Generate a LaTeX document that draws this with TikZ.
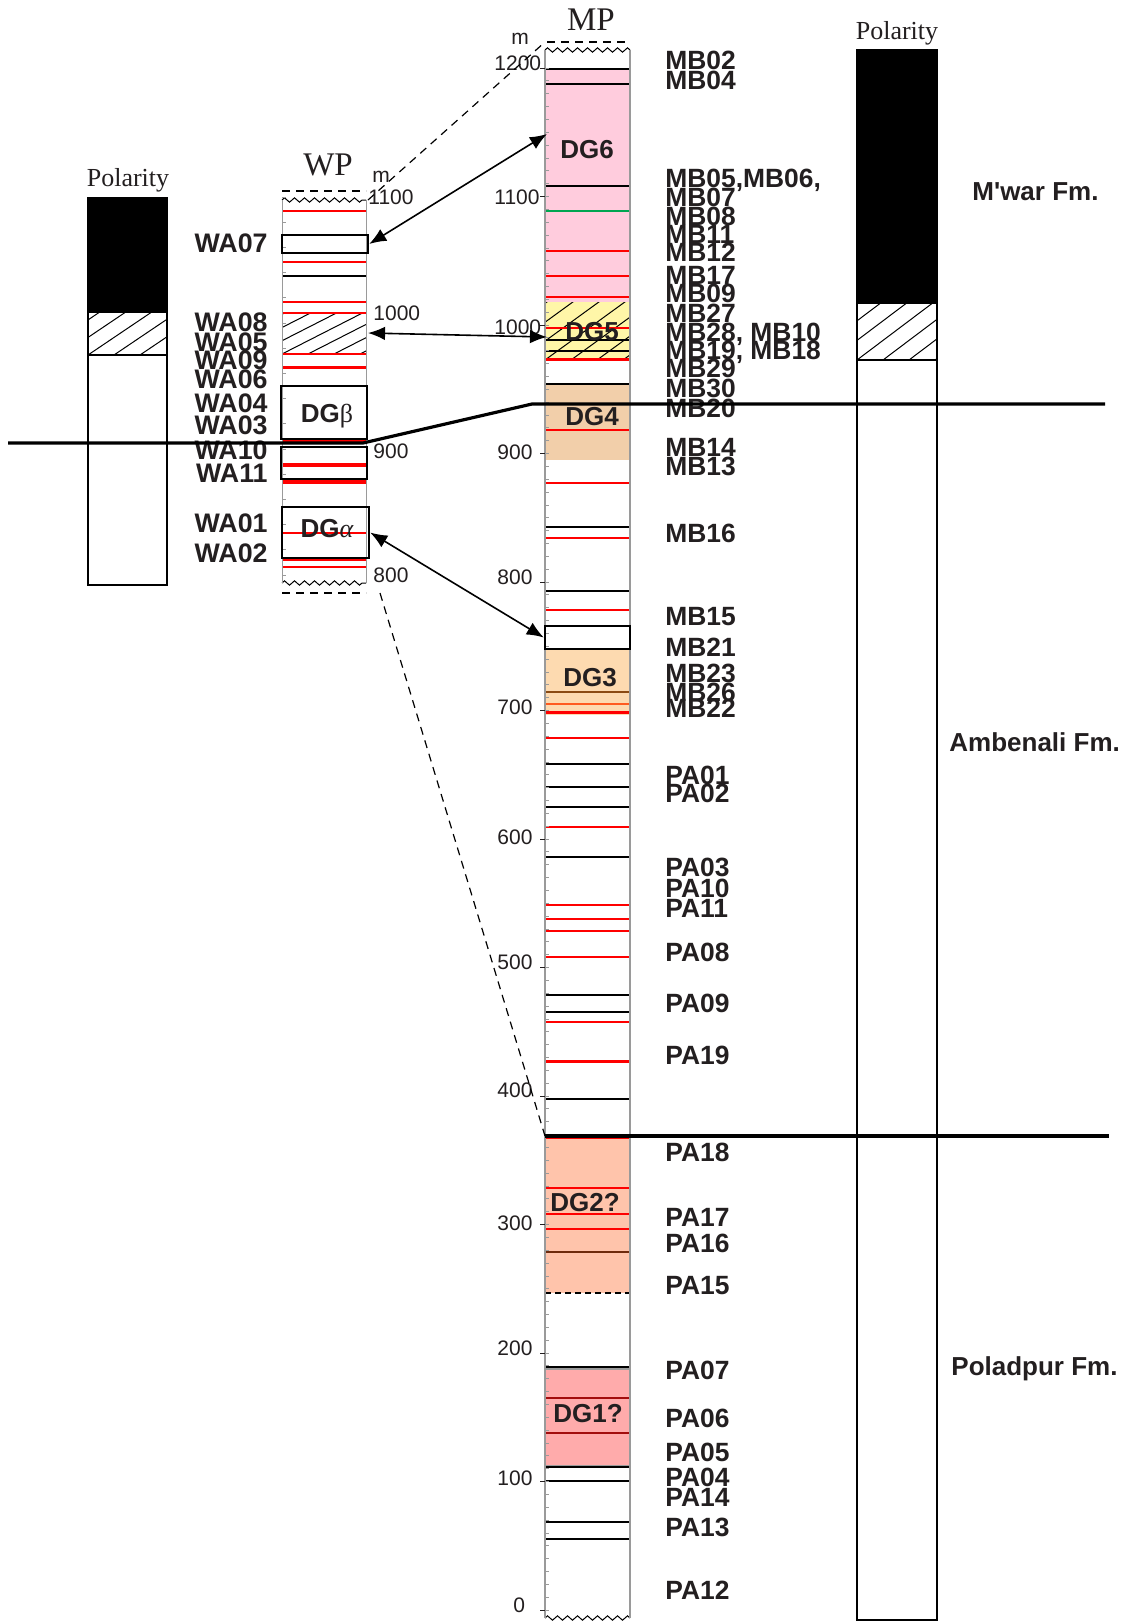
\documentclass[tikz,border=0pt]{standalone}
\usepackage{fontspec}
\setmainfont{Liberation Sans}
\newfontfamily\serif{Liberation Serif}
\usetikzlibrary{arrows.meta,decorations.pathmorphing}
\definecolor{Ink}{HTML}{231F20}
\definecolor{LogGrey}{HTML}{9A9A9A}
\definecolor{BedRed}{HTML}{FF0000}
\definecolor{BedOrange}{HTML}{FF5A1F}
\definecolor{BedGreen}{HTML}{00A651}
\definecolor{BedBrown}{HTML}{8B4A12}
\definecolor{BedDarkBrown}{HTML}{6E2A0C}
\definecolor{BedDarkRed}{HTML}{A30D0D}
\definecolor{FillDGsix}{HTML}{FFCCDD}
\definecolor{FillDGfive}{HTML}{FFF6A8}
\definecolor{FillDGfour}{HTML}{F2CFAA}
\definecolor{FillDGthree}{HTML}{FDDAB0}
\definecolor{FillDGtwo}{HTML}{FFC4AB}
\definecolor{FillDGone}{HTML}{FFABAB}

\begin{document}
\begin{tikzpicture}[x=0.5pt,y=-0.5pt,
  lab/.style={anchor=west,inner sep=0pt,text height=9.5pt,text depth=0pt,font=\fontsize{13.2}{13.2}\selectfont\bfseries,text=Ink},
  wlab/.style={anchor=east,inner sep=0pt,text height=9.6pt,text depth=0pt,font=\fontsize{13.4}{13.4}\selectfont\bfseries,text=Ink},
  fmlab/.style={anchor=west,inner sep=0pt,font=\fontsize{13}{13}\selectfont\bfseries,text=Ink},
  num/.style={anchor=west,inner sep=0pt,font=\fontsize{10.5}{10.5}\selectfont,text=Ink},
  ttl/.style={inner sep=0pt,font=\serif\fontsize{16.5}{16.5}\selectfont,text=Ink},
  polttl/.style={inner sep=0pt,font=\serif\fontsize{13}{13}\selectfont,text=Ink},
  dglab/.style={inner sep=0pt,font=\fontsize{13}{13}\selectfont\bfseries,text=Ink},
  redbed/.style={draw=BedRed,line width=0.9pt},
  blackbed/.style={draw=black,line width=1.1pt},
  unitbox/.style={draw=black,line width=1.2pt,inner sep=0pt,minimum width=43pt},
  corr/.style={{Latex[length=3mm,width=2.4mm]}-{Latex[length=3mm,width=2.4mm]},line width=0.8pt},
  tie/.style={line width=0.6pt,dash pattern=on 4pt off 3pt},
  fmline/.style={line width=1.6pt},
  hatch/.style={path picture={\foreach \k in {-8,...,8}
      \draw[line width=0.5pt] ([xshift=\k*13pt]path picture bounding box.south west) -- ++(#1:90pt);}},
  wavy/.style={decorate,decoration={zigzag,segment length=5pt,amplitude=1.1pt},line width=0.5pt}
]
\fill[white] (0,0) rectangle (1130,1623);
\useasboundingbox (0,0) rectangle (1130,1623);

% left polarity column
\node[polttl] (polW) at (128,180) {Polarity};
\draw[line width=0.8pt,fill=black] (88,198) rectangle (167,312);
\path[draw,line width=0.8pt,hatch=34] (88,312) rectangle (167,355);
\draw[line width=0.8pt] (88,355) rectangle (167,585);

% WP section
\node[ttl] (wp) at (328,165) {WP};
\node[inner sep=0pt,font=\fontsize{10.5}{10.5}\selectfont,text=Ink] (wpm) at (381,177) {m};
\draw[tie] (282,191) -- (366,191);
\draw[wavy] (282,200) -- (366,200);
\draw[wavy] (282,583) -- (366,583);
\draw[tie] (282,593) -- (366,593);
\path[hatch=27] (282,313) rectangle (366,354);
\foreach \y/\w in {211/0.6,262/1,302/1.2,313/0.7,354/0.7,367/1.5,441/1,465/2,482/2,533/1,559/1.5,567/1}
  \draw[draw=BedRed,line width=\w pt] (282,\y) -- (366,\y);
\draw[blackbed,line width=1.3pt] (282,276) -- (366,276);
\draw[LogGrey,line width=0.5pt] (282,200) -- (282,583) (366,200) -- (366,583);
\foreach \k in {0,...,15}
  \draw[LogGrey,line width=0.4pt] (282,197+\k*25.2) -- (286,197+\k*25.2);
\node[unitbox,minimum height=9pt] (wa07box) at (325,244) {};
\node[unitbox,minimum height=26.5pt] (dgbeta) at (324,412.5) {};
\node[unitbox,minimum height=16pt] (wa10box) at (324,463) {};
\node[unitbox,minimum width=43.5pt,minimum height=25.5pt] (dgalpha) at (325.5,532.5) {};
\node[dglab] (dgbetatxt) at (327,416) {DG{\serif\mdseries β}};
\node[dglab] (dgalphatxt) at (327,529) {DG{\serif\mdseries\itshape α}};
\node[num] (wpn1100) at (368,197) {1100};
\node[num] (wpn1000) at (373,313) {1000};
\node[num] (wpn900) at (373,451) {900};
\node[num] (wpn800) at (373,575) {800};

\node[wlab] (wa07) at (268,243) {WA07};
\node[wlab] (wa08) at (268,322) {WA08};
\node[wlab] (wa05) at (268,342) {WA05};
\node[wlab] (wa09) at (268,360) {WA09};
\node[wlab] (wa06) at (268,379) {WA06};
\node[wlab] (wa04) at (268,403) {WA04};
\node[wlab] (wa03) at (268,425) {WA03};
\node[wlab] (wa10) at (268,450) {WA10};
\node[wlab] (wa11) at (268,473) {WA11};
\node[wlab] (wa01) at (268,523) {WA01};
\node[wlab] (wa02) at (268,553) {WA02};

% MP section
\node[ttl] (mp) at (591,20) {MP};
\node[inner sep=0pt,font=\fontsize{10.5}{10.5}\selectfont,text=Ink] (mpm) at (520,39) {m};
\fill[FillDGsix] (545,69) rectangle (630,302);
\path[fill=FillDGfive,hatch=36] (545,302) rectangle (630,360);
\fill[FillDGfour] (545,384) rectangle (630,460);
\fill[FillDGthree] (545,649) rectangle (630,715);
\fill[FillDGtwo] (545,1136) rectangle (630,1293);
\draw[LogGrey,fill=FillDGone,line width=0.6pt] (545,1369) rectangle (630,1466);
\draw[tie] (547,42) -- (627,42);
\draw[wavy] (545,50) -- (630,50);
\draw[wavy] (545,1618) -- (630,1618);
\foreach \y in {251,276,297,430,483,538,610,738,827,905,919,931,957,1022,1138,1188,1214,1229}
  \draw[redbed] (545,\y) -- (630,\y);
\foreach \y in {359,712,1061}
  \draw[redbed,line width=1.5pt] (545,\y) -- (630,\y);
\draw[redbed,line width=0.6pt] (545,328) -- (630,328);
\draw[draw=BedOrange,line width=0.6pt] (545,704) -- (630,704);
\draw[draw=BedGreen,line width=1.1pt] (545,211) -- (630,211);
\draw[draw=BedBrown,line width=1.1pt] (545,692) -- (630,692);
\draw[draw=BedDarkBrown,line width=1.3pt] (545,1252) -- (630,1252);
\foreach \y in {1398,1433}
  \draw[draw=BedDarkRed,line width=1pt] (545,\y) -- (630,\y);
\foreach \y in {69,84,186,340,384,527,591,764,807,857,995,1012,1099,1367,1467,1481,1522,1539}
  \draw[blackbed] (545,\y) -- (630,\y);
\foreach \y in {351,787}
  \draw[blackbed,line width=0.7pt] (545,\y) -- (630,\y);
\draw[line width=0.8pt,dash pattern=on 3pt off 2pt] (545,1293) -- (630,1293);
\draw[LogGrey,line width=0.6pt] (545,50) -- (545,1618) (630,50) -- (630,1618);
\foreach \h in {0,10,...,1200}
  \draw[LogGrey,line width=0.4pt] (545,{1610-1.285*\h}) -- (549,{1610-1.285*\h});
\foreach \h in {0,100,...,1200}
  \draw[Ink,line width=0.5pt] (540,{1610-1.285*\h}) -- (545,{1610-1.285*\h});
\node[unitbox,minimum width=42.5pt,minimum height=11.5pt] (mb21box) at (587.5,637.5) {};

\node[dglab] (dg6) at (587,150) {DG6};
\node[dglab] (dg5) at (592,332) {DG5};
\node[dglab] (dg4) at (592,417) {DG4};
\node[dglab] (dg3) at (590,678) {DG3};
\node[dglab] (dg2) at (585,1203) {DG2?};
\node[dglab] (dg1) at (588,1414) {DG1?};

\foreach \h/\yy in {100/1478,200/1348,300/1223,400/1090,500/962,600/837,700/707,800/577,900/452}
  \node[num] (mpn\h) at (497,\yy) {\h};
\foreach \h/\yy in {1000/327,1100/197,1200/63}
  \node[num] (mpn\h) at (494,\yy) {\h};
\node[num] (mpn0) at (513,1605) {0};

\node[lab] (mb02) at (665,60) {MB02};
\node[lab] (mb04) at (665,80) {MB04};
\node[lab] (mb05) at (665,178) {MB05,MB06,};
\node[lab] (mb07) at (665,197) {MB07};
\node[lab] (mb08) at (665,216) {MB08};
\node[lab] (mb11) at (665,234) {MB11};
\node[lab] (mb12) at (665,252) {MB12};
\node[lab] (mb17) at (665,275) {MB17};
\node[lab] (mb09) at (665,293) {MB09};
\node[lab] (mb27) at (665,313) {MB27};
\node[lab] (mb28) at (665,332) {MB28, MB10};
\node[lab] (mb19) at (665,350) {MB19, MB18};
\node[lab] (mb29) at (665,368) {MB29};
\node[lab] (mb30) at (665,388) {MB30};
\node[lab] (mb20) at (665,408) {MB20};
\node[lab] (mb14) at (665,447) {MB14};
\node[lab] (mb13) at (665,466) {MB13};
\node[lab] (mb16) at (665,533) {MB16};
\node[lab] (mb15) at (665,616) {MB15};
\node[lab] (mb21) at (665,647) {MB21};
\node[lab] (mb23) at (665,673) {MB23};
\node[lab] (mb26) at (665,692) {MB26};
\node[lab] (mb22) at (665,708) {MB22};
\node[lab] (pa01) at (665,775) {PA01};
\node[lab] (pa02) at (665,793) {PA02};
\node[lab] (pa03) at (665,867) {PA03};
\node[lab] (pa10) at (665,888) {PA10};
\node[lab] (pa11) at (665,908) {PA11};
\node[lab] (pa08) at (665,952) {PA08};
\node[lab] (pa09) at (665,1003) {PA09};
\node[lab] (pa19) at (665,1055) {PA19};
\node[lab] (pa18) at (665,1152) {PA18};
\node[lab] (pa17) at (665,1217) {PA17};
\node[lab] (pa16) at (665,1243) {PA16};
\node[lab] (pa15) at (665,1285) {PA15};
\node[lab] (pa07) at (665,1370) {PA07};
\node[lab] (pa06) at (665,1418) {PA06};
\node[lab] (pa05) at (665,1452) {PA05};
\node[lab] (pa04) at (665,1477) {PA04};
\node[lab] (pa14) at (665,1497) {PA14};
\node[lab] (pa13) at (665,1527) {PA13};
\node[lab] (pa12) at (665,1590) {PA12};

% right polarity column and formations
\node[polttl] (polM) at (897,33) {Polarity};
\draw[line width=0.8pt,fill=black] (857,50) rectangle (937,303);
\path[draw,line width=0.8pt,hatch=37] (857,303) rectangle (937,360);
\draw[line width=0.8pt] (857,360) rectangle (937,1620);
\node[fmlab] (mwar) at (972,192) {M\textquotesingle war Fm.};
\node[fmlab] (ambenali) at (949,742) {Ambenali Fm.};
\node[fmlab] (poladpur) at (951,1369) {Poladpur Fm.};

% ties and correlations
\coordinate (wptop) at (368,200);
\coordinate (mptop) at (545,42);
\coordinate (wpbase) at (380,593);
\coordinate (mpbase) at (545,1136);
\draw[tie] (wptop) -- (mptop);
\draw[tie] (wpbase) -- (mpbase);
\coordinate (dg6tip) at (547,134);
\coordinate (wphatch) at (368,333);
\coordinate (dg5tip) at (547,337);
\draw[corr] (wa07box.east) -- (dg6tip);
\draw[corr] (wphatch) -- (dg5tip);
\draw[corr] (dgalpha.east) -- (mb21box.west);

% formation boundaries
\coordinate (fmA0) at (8,443);
\coordinate (fmA1) at (363,443);
\coordinate (fmA2) at (532,404);
\coordinate (fmA3) at (1105,404);
\draw[fmline] (fmA0) -- (fmA1) -- (fmA2) -- (fmA3);
\coordinate (fmB0) at (545,1136);
\coordinate (fmB1) at (1109,1136);
\draw[fmline] (fmB0) -- (fmB1);
\end{tikzpicture}
\end{document}
